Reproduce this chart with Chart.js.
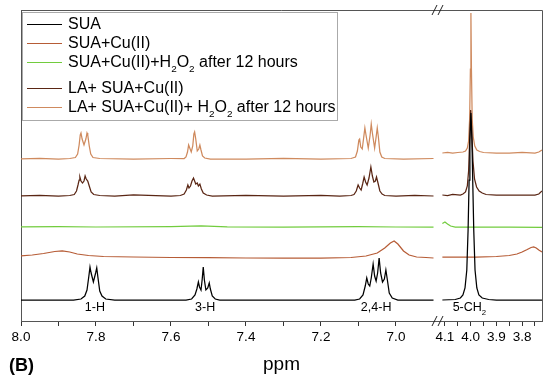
<!DOCTYPE html>
<html>
<head>
<meta charset="utf-8">
<script src="https://cdn.jsdelivr.net/npm/chart.js@4.4.1/dist/chart.umd.min.js"></script>
<style>
  body { margin: 0; background: #fff; }
  canvas { display: block; }
</style>
</head>
<body>
<canvas id="nmrChart" width="550" height="386"></canvas>
<script>
// Series names and colours (legend order)
const seriesNames = ["SUA", "SUA+Cu(II)", "SUA+Cu(II)+H₂O₂ after 12 hours", "LA+ SUA+Cu(II)", "LA+ SUA+Cu(II)+ H₂O₂ after 12 hours"];
const seriesColors = ["#000000", "#b65c36", "#72cc3e", "#5a2614", "#cf8a5e"];
// vertical stacking offset of each spectrum (intensity units)
const offsets = [21, 63, 94, 125, 162];

// Tick labels
const leftTicks = ["8.0", "7.8", "7.6", "7.4", "7.2", "7.0"];
const rightTicks = ["4.1", "4.0", "3.9", "3.8"];

// Peak assignments
const peakLabels = ["1-H", "3-H", "2,4-H", "5-CH₂"];
const peakLabelPpm = [7.803, 7.509, 7.053, 4.005];
const peakLabelAxis = ["x", "x", "x", "x2"];

// SUA
const suaPpmL = [8.00, 7.90, 7.86, 7.84, 7.830, 7.824, 7.819, 7.816, 7.813, 7.807, 7.801, 7.798, 7.795, 7.790, 7.784, 7.774, 7.75, 7.65,
  7.56, 7.545, 7.536, 7.531, 7.527, 7.524, 7.520, 7.517, 7.514, 7.511, 7.507, 7.502, 7.498, 7.495, 7.490, 7.482, 7.47, 7.35, 7.20,
  7.11, 7.097, 7.088, 7.082, 7.078, 7.074, 7.070, 7.066, 7.061, 7.057, 7.053, 7.049, 7.045, 7.041, 7.036, 7.031, 7.027, 7.023, 7.018, 7.010, 6.995, 6.90];
const suaIntL = [0, 0, 0, 1, 4, 10, 24, 33, 27, 18, 27, 32, 23, 9, 4, 1, 0, 0,
  0, 1, 5, 11, 18, 13, 10, 20, 33, 20, 10, 12, 17, 11, 4, 1, 0, 0, 0,
  0, 1, 5, 14, 22, 16, 14, 22, 36, 24, 19, 27, 42, 27, 18, 21, 30, 20, 7, 2, 0, 0];
const suaPpmR = [4.11, 4.06, 4.04, 4.030, 4.022, 4.015, 4.010, 4.006, 4.003, 3.999, 3.995, 3.992, 3.988, 3.983, 3.976, 3.968, 3.955, 3.93, 3.90, 3.80, 3.7226];
const suaIntR = [0, 0.5, 2, 5, 12, 30, 70, 120, 160, 187, 160, 120, 70, 30, 12, 5, 2, 0.5, 0, 0, 0];

// SUA+Cu(II)
const cuPpmL = [8.00, 7.97, 7.94, 7.91, 7.89, 7.87, 7.85, 7.82, 7.78, 7.70, 7.60, 7.50, 7.40, 7.30, 7.20,
  7.12, 7.08, 7.05, 7.03, 7.015, 7.005, 6.995, 6.98, 6.965, 6.945, 6.92, 6.90];
const cuIntL = [2, 3, 4.5, 6.5, 7, 6, 4, 2.5, 1.5, 1, 0.5, 0.5, 0, 0, 0,
  0.5, 2, 5, 10, 15, 17, 14, 7, 3, 1, 0.5, 0];
const cuPpmR = [4.11, 4.05, 3.98, 3.90, 3.85, 3.82, 3.80, 3.78, 3.765, 3.755, 3.745, 3.735, 3.7226];
const cuIntR = [1, 1, 1, 1.5, 2.5, 4, 6, 8.5, 10.5, 11, 10, 8, 6];

// SUA+Cu(II)+H2O2 after 12 hours
const cuH2o2PpmL = [8.00, 7.90, 7.80, 7.60, 7.52, 7.45, 7.30, 7.10, 7.00, 6.90];
const cuH2o2IntL = [0, 0.3, 0, 0.3, 1, 0.2, 0, 0.3, 0, 0];
const cuH2o2PpmR = [4.11, 4.10, 4.09, 4.078, 4.06, 3.95, 3.85, 3.7226];
const cuH2o2IntR = [3.5, 5, 3, 1, 0, 0, 0, -0.5];

// LA+ SUA+Cu(II)
const laPpmL = [8.00, 7.95, 7.90, 7.87, 7.858, 7.852, 7.848, 7.845, 7.843, 7.840, 7.836, 7.832, 7.829, 7.826, 7.822, 7.818, 7.813, 7.806, 7.79, 7.75, 7.70, 7.60,
  7.575, 7.565, 7.559, 7.555, 7.552, 7.548, 7.544, 7.540, 7.537, 7.534, 7.530, 7.527, 7.523, 7.519, 7.514, 7.505, 7.49, 7.40, 7.30, 7.20, 7.15,
  7.12, 7.112, 7.106, 7.101, 7.097, 7.093, 7.089, 7.085, 7.081, 7.077, 7.072, 7.067, 7.063, 7.059, 7.055, 7.052, 7.048, 7.043, 7.037, 7.03, 7.00, 6.95, 6.90];
const laIntL = [0, 0.5, 0, 0.5, 1.5, 5, 11, 16, 19, 15, 13, 15, 20, 17, 15, 10, 4, 1.5, 0.5, 0, 1, 0,
  0.5, 2, 6, 11, 8, 10, 15, 18, 15, 12, 13, 10, 12, 7, 3, 1, 0, 0.5, 0, 0.5, 0,
  0.5, 1.5, 5, 11, 8, 6, 12, 19, 14, 11, 18, 29, 20, 14, 15, 19, 13, 5, 2, 0.5, 0, 0.5, 0];
const laPpmR = [4.11, 4.09, 4.07, 4.04, 4.03, 4.02, 4.013, 4.008, 4.004, 4.000, 3.996, 3.991, 3.985, 3.977, 3.967, 3.955, 3.94, 3.90, 3.85, 3.80, 3.75, 3.735, 3.7226];
const laIntR = [1, 0.5, 1.5, 1, 2, 4, 10, 25, 55, 86, 65, 35, 17, 9, 5, 3, 1.5, 1, 1, 1, 1, 2, 5];

// LA+ SUA+Cu(II)+ H2O2 after 12 hours
const laH2o2PpmL = [8.00, 7.95, 7.90, 7.87, 7.855, 7.849, 7.845, 7.842, 7.840, 7.837, 7.832, 7.827, 7.824, 7.822, 7.818, 7.814, 7.808, 7.79, 7.70, 7.60,
  7.565, 7.560, 7.556, 7.553, 7.550, 7.546, 7.542, 7.539, 7.537, 7.534, 7.530, 7.526, 7.523, 7.520, 7.516, 7.510, 7.495, 7.40, 7.30, 7.20,
  7.12, 7.108, 7.103, 7.099, 7.097, 7.094, 7.090, 7.086, 7.083, 7.080, 7.074, 7.069, 7.066, 7.063, 7.057, 7.053, 7.050, 7.047, 7.043, 7.038, 7.03, 6.98, 6.90];
const laH2o2IntL = [0, 0.5, 0, 0.5, 1.5, 5, 14, 24, 26, 20, 14, 20, 26, 24, 13, 5, 1.5, 0.5, 0, 0.5,
  0.5, 2, 7, 14, 11, 7, 13, 25, 27, 20, 8, 10, 14, 9, 3, 1, 0, 0, 0.5, 0,
  0.5, 2, 8, 19, 20, 12, 10, 22, 31, 24, 11, 24, 35, 26, 11, 22, 31, 22, 7, 2, 0.5, 0, 0.5];
const laH2o2PpmR = [4.11, 4.09, 4.07, 4.05, 4.03, 4.02, 4.013, 4.008, 4.004, 4.001, 3.999, 3.997, 3.994, 3.990, 3.984, 3.976, 3.965, 3.95, 3.90, 3.85, 3.80, 3.75, 3.735, 3.7226];
const laH2o2IntR = [6, 6.5, 6, 6.5, 7, 8, 11, 18, 40, 90, 146, 90, 40, 22, 13, 9, 7.5, 6.5, 6, 6, 6.5, 6, 7, 9];

const spectra = [
  [suaPpmL, suaIntL, suaPpmR, suaIntR],
  [cuPpmL, cuIntL, cuPpmR, cuIntR],
  [cuH2o2PpmL, cuH2o2IntL, cuH2o2PpmR, cuH2o2IntR],
  [laPpmL, laIntL, laPpmR, laIntR],
  [laH2o2PpmL, laH2o2IntL, laH2o2PpmR, laH2o2IntR]
];

const FONT = '"Liberation Sans", Arial, sans-serif';

// build datasets: each spectrum is split over the two x segments
const datasets = [];
spectra.forEach((s, i) => {
  const toPts = (ppm, val) => ppm.map((p, k) => ({ x: p, y: val[k] + offsets[i] }));
  datasets.push({ label: seriesNames[i], data: toPts(s[0], s[1]), xAxisID: "x", borderColor: seriesColors[i] });
  datasets.push({ label: seriesNames[i], data: toPts(s[2], s[3]), xAxisID: "x2", borderColor: seriesColors[i] });
});

// text with ₂ drawn as a real subscript
function drawRich(ctx, text, x, y, size, align) {
  const parts = [];
  let cur = "";
  for (const ch of text) {
    if (ch === "₂") {
      if (cur) parts.push({ t: cur, sub: false });
      cur = "";
      parts.push({ t: "2", sub: true });
    } else cur += ch;
  }
  if (cur) parts.push({ t: cur, sub: false });
  let w = 0;
  parts.forEach(p => {
    ctx.font = (p.sub ? size * 0.62 : size) + "px " + FONT;
    p.w = ctx.measureText(p.t).width;
    w += p.w;
  });
  let cx = align === "center" ? x - w / 2 : x;
  ctx.textAlign = "left";
  ctx.textBaseline = "middle";
  parts.forEach(p => {
    ctx.font = (p.sub ? size * 0.62 : size) + "px " + FONT;
    ctx.fillText(p.t, cx, p.sub ? y + size * 0.38 : y);
    cx += p.w;
  });
}

const isMajor = v => Math.abs(v * 5 - Math.round(v * 5)) < 1e-6;
const isTenth = v => Math.abs(v * 10 - Math.round(v * 10)) < 1e-6;

const decorPlugin = {
  id: "decor",
  afterDraw(chart) {
    const ctx = chart.ctx;
    const a = chart.chartArea;
    ctx.save();
    // top and right frame
    ctx.strokeStyle = "#555";
    ctx.lineWidth = 1;
    ctx.beginPath();
    ctx.moveTo(a.left, a.top + 0.5);
    ctx.lineTo(a.right + 0.5, a.top + 0.5);
    ctx.lineTo(a.right + 0.5, a.bottom);
    ctx.stroke();

    // axis break marks
    const bx = chart.scales.x.right;
    [a.top, a.bottom].forEach(by => {
      ctx.strokeStyle = "#222";
      ctx.beginPath();
      ctx.moveTo(bx - 6, by + 5); ctx.lineTo(bx - 1, by - 5);
      ctx.moveTo(bx, by + 5); ctx.lineTo(bx + 5, by - 5);
      ctx.stroke();
    });

    // legend
    const lx = 22, ly = 12, lw = 315, lh = 108;
    ctx.fillStyle = "#fff";
    ctx.fillRect(lx, ly, lw, lh);
    ctx.strokeStyle = "#aaa";
    ctx.strokeRect(lx + 0.5, ly + 0.5, lw, lh);
    const rows = [24, 43, 62, 88, 107];
    seriesNames.forEach((name, i) => {
      ctx.strokeStyle = seriesColors[i];
      ctx.lineWidth = 1.2;
      ctx.beginPath();
      ctx.moveTo(27, rows[i] + 0.5);
      ctx.lineTo(62, rows[i] + 0.5);
      ctx.stroke();
      ctx.fillStyle = "#000";
      drawRich(ctx, name, 68, rows[i] + 1, 16, "left");
    });

    // peak labels
    ctx.fillStyle = "#000";
    peakLabels.forEach((t, i) => {
      const px = chart.scales[peakLabelAxis[i]].getPixelForValue(peakLabelPpm[i]);
      drawRich(ctx, t, px, 308, 12.5, "center");
    });

    // axis title and panel letter
    ctx.textAlign = "center";
    ctx.textBaseline = "middle";
    ctx.font = "19px " + FONT;
    ctx.fillText("ppm", (a.left + a.right) / 2, 365);
    ctx.textAlign = "left";
    ctx.font = "bold 18px " + FONT;
    ctx.fillText("(B)", 9, 366);
    ctx.restore();
  }
};

const tickFont = { family: FONT, size: 13.5 };

new Chart(document.getElementById("nmrChart"), {
  type: "line",
  data: { datasets },
  options: {
    responsive: false,
    animation: false,
    layout: { padding: { left: 21, right: 8, top: 10, bottom: 35 } },
    plugins: { legend: { display: false }, tooltip: { enabled: false } },
    elements: { point: { radius: 0 }, line: { borderWidth: 1.25, tension: 0 } },
    scales: {
      x: {
        type: "linear", position: "bottom", stack: "ppm", stackWeight: 417,
        reverse: true, min: 6.888, max: 8.0,
        afterFit: s => { s.height = 30; },
        border: { display: true, color: "#555" },
        grid: {
          display: true, drawOnChartArea: false, drawTicks: true, tickLength: 5,
          tickColor: c => (c.tick && c.tick.value < 6.95) ? "rgba(0,0,0,0)" : "#333"
        },
        ticks: {
          stepSize: 0.1, includeBounds: false, autoSkip: false, maxRotation: 0, padding: 3,
          color: "#000", font: tickFont,
          callback: v => {
            const s = v.toFixed(1);
            return isMajor(v) && leftTicks.includes(s) ? s : "";
          }
        }
      },
      x2: {
        type: "linear", position: "bottom", stack: "ppm", stackWeight: 104,
        reverse: true, min: 3.7226, max: 4.127,
        afterFit: s => { s.height = 30; },
        border: { display: true, color: "#555" },
        grid: { display: true, drawOnChartArea: false, drawTicks: true, tickLength: 5, tickColor: "#333" },
        ticks: {
          stepSize: 0.05, includeBounds: false, autoSkip: false, maxRotation: 0, padding: 3,
          color: "#000", font: tickFont,
          callback: v => {
            const s = v.toFixed(1);
            return isTenth(v) && rightTicks.includes(s) ? s : "";
          }
        }
      },
      y: {
        min: 0, max: 311,
        afterFit: s => { s.width = 0; },
        ticks: { display: false },
        grid: { display: false },
        border: { display: true, color: "#555" }
      }
    }
  },
  plugins: [decorPlugin]
});
</script>
</body>
</html>
